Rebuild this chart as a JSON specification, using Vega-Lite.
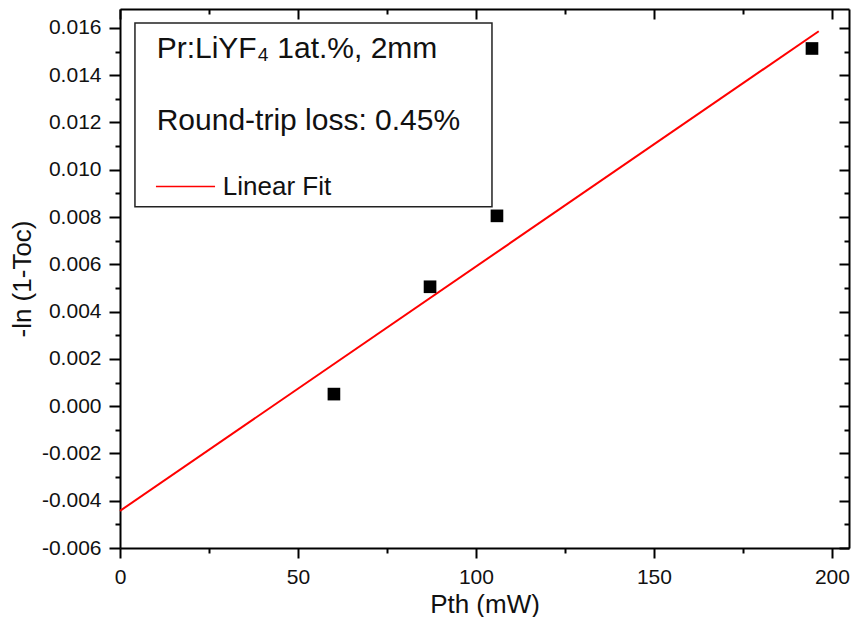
{
  "$schema": "https://vega.github.io/schema/vega-lite/v6.json",
  "width": 729,
  "height": 539,
  "autosize": {"type": "none"},
  "padding": {"left": 120, "top": 9, "right": 6, "bottom": 69},
  "background": "white",
  "config": {"view": {"stroke": null}, "font": "Liberation Sans"},
  "datasets": {
    "points": [
      {"pth": 60.1, "val": 0.00051},
      {"pth": 87.1, "val": 0.00505},
      {"pth": 105.9, "val": 0.00805},
      {"pth": 194.4, "val": 0.01513}
    ],
    "fit": [
      {"pth": 0, "val": -0.00443},
      {"pth": 196.3, "val": 0.01586}
    ],
    "box": [{"x1": 4.2, "x2": 104.5, "y1": 0.00843, "y2": 0.01621}],
    "bigtext": [
      {"tx": 10.3, "ty": 0.01474, "label": "Pr:LiYF₄ 1at.%, 2mm"},
      {"tx": 10.3, "ty": 0.01169, "label": "Round-trip loss: 0.45%"}
    ],
    "smalltext": [{"tx": 28.9, "ty": 0.00894, "label": "Linear Fit"}],
    "legline": [
      {"pth": 10.1, "val": 0.00929},
      {"pth": 26.7, "val": 0.00929}
    ]
  },
  "resolve": {"axis": {"x": "independent", "y": "independent"}},
  "layer": [
    {
      "data": {"name": "box"},
      "mark": {"type": "rect", "fill": "white", "stroke": "#222222", "strokeWidth": 1.5},
      "encoding": {
        "x": {
          "field": "x1", "type": "quantitative",
          "scale": {"domain": [0, 204.8], "nice": false, "zero": false},
          "axis": {
            "orient": "bottom",
            "title": "Pth (mW)",
            "titleFontSize": 26, "titleFontWeight": "normal", "titleColor": "#111",
            "titlePadding": 4,
            "values": [0, 25, 50, 75, 100, 125, 150, 175, 200],
            "tickSize": {"condition": {"test": "datum.value % 50 === 0", "value": 10}, "value": 5},
            "labelExpr": "datum.value % 50 === 0 ? datum.label : ''",
            "labelFontSize": 21, "labelColor": "#111", "labelPadding": 8,
            "labelFlush": false,
            "domainColor": "black", "domainWidth": 2,
            "tickColor": "black", "tickWidth": 2,
            "grid": false
          }
        },
        "x2": {"field": "x2"},
        "y": {
          "field": "y1", "type": "quantitative",
          "scale": {"domain": [-0.006, 0.0168], "nice": false, "zero": false},
          "axis": {
            "orient": "left",
            "title": "-ln (1-Toc)",
            "titleFontSize": 26, "titleFontWeight": "normal", "titleColor": "#111",
            "titlePadding": 6,
            "values": [-0.006, -0.005, -0.004, -0.003, -0.002, -0.001, 0, 0.001, 0.002, 0.003, 0.004, 0.005, 0.006, 0.007, 0.008, 0.009, 0.01, 0.011, 0.012, 0.013, 0.014, 0.015, 0.016],
            "tickSize": {"condition": {"test": "round(datum.value*1000) % 2 === 0", "value": 11}, "value": 5},
            "labelExpr": "round(datum.value*1000) % 2 === 0 ? replace(format(datum.value, '.3f'), '−', '-') : ''",
            "labelFontSize": 21, "labelColor": "#111", "labelPadding": 8,
            "labelFlush": false,
            "domainColor": "black", "domainWidth": 2,
            "tickColor": "black", "tickWidth": 2,
            "grid": false
          }
        },
        "y2": {"field": "y2"}
      }
    },
    {
      "data": {"name": "fit"},
      "mark": {"type": "line", "color": "#ff0000", "strokeWidth": 2},
      "encoding": {
        "x": {
          "field": "pth", "type": "quantitative",
          "axis": {
            "orient": "top", "title": null, "labels": false,
            "values": [0, 25, 50, 75, 100, 125, 150, 175, 200],
            "tickSize": {"condition": {"test": "datum.value % 50 === 0", "value": -10}, "value": -5},
            "domainColor": "black", "domainWidth": 2,
            "tickColor": "black", "tickWidth": 2, "grid": false
          }
        },
        "y": {
          "field": "val", "type": "quantitative",
          "axis": {
            "orient": "right", "title": null, "labels": false,
            "values": [-0.006, -0.005, -0.004, -0.003, -0.002, -0.001, 0, 0.001, 0.002, 0.003, 0.004, 0.005, 0.006, 0.007, 0.008, 0.009, 0.01, 0.011, 0.012, 0.013, 0.014, 0.015, 0.016],
            "tickSize": {"condition": {"test": "round(datum.value*1000) % 2 === 0", "value": -10}, "value": -5},
            "domainColor": "black", "domainWidth": 2,
            "tickColor": "black", "tickWidth": 2, "grid": false
          }
        }
      }
    },
    {
      "data": {"name": "points"},
      "mark": {"type": "point", "shape": "square", "filled": true, "color": "black", "size": 160, "opacity": 1},
      "encoding": {
        "x": {"field": "pth", "type": "quantitative", "axis": null},
        "y": {"field": "val", "type": "quantitative", "axis": null}
      }
    },
    {
      "data": {"name": "legline"},
      "mark": {"type": "line", "color": "#ff0000", "strokeWidth": 1.5},
      "encoding": {
        "x": {"field": "pth", "type": "quantitative", "axis": null},
        "y": {"field": "val", "type": "quantitative", "axis": null}
      }
    },
    {
      "data": {"name": "bigtext"},
      "mark": {"type": "text", "align": "left", "baseline": "alphabetic", "fontSize": 30, "color": "#111"},
      "encoding": {
        "x": {"field": "tx", "type": "quantitative", "axis": null},
        "y": {"field": "ty", "type": "quantitative", "axis": null},
        "text": {"field": "label"}
      }
    },
    {
      "data": {"name": "smalltext"},
      "mark": {"type": "text", "align": "left", "baseline": "alphabetic", "fontSize": 26, "color": "#111"},
      "encoding": {
        "x": {"field": "tx", "type": "quantitative", "axis": null},
        "y": {"field": "ty", "type": "quantitative", "axis": null},
        "text": {"field": "label"}
      }
    }
  ]
}
